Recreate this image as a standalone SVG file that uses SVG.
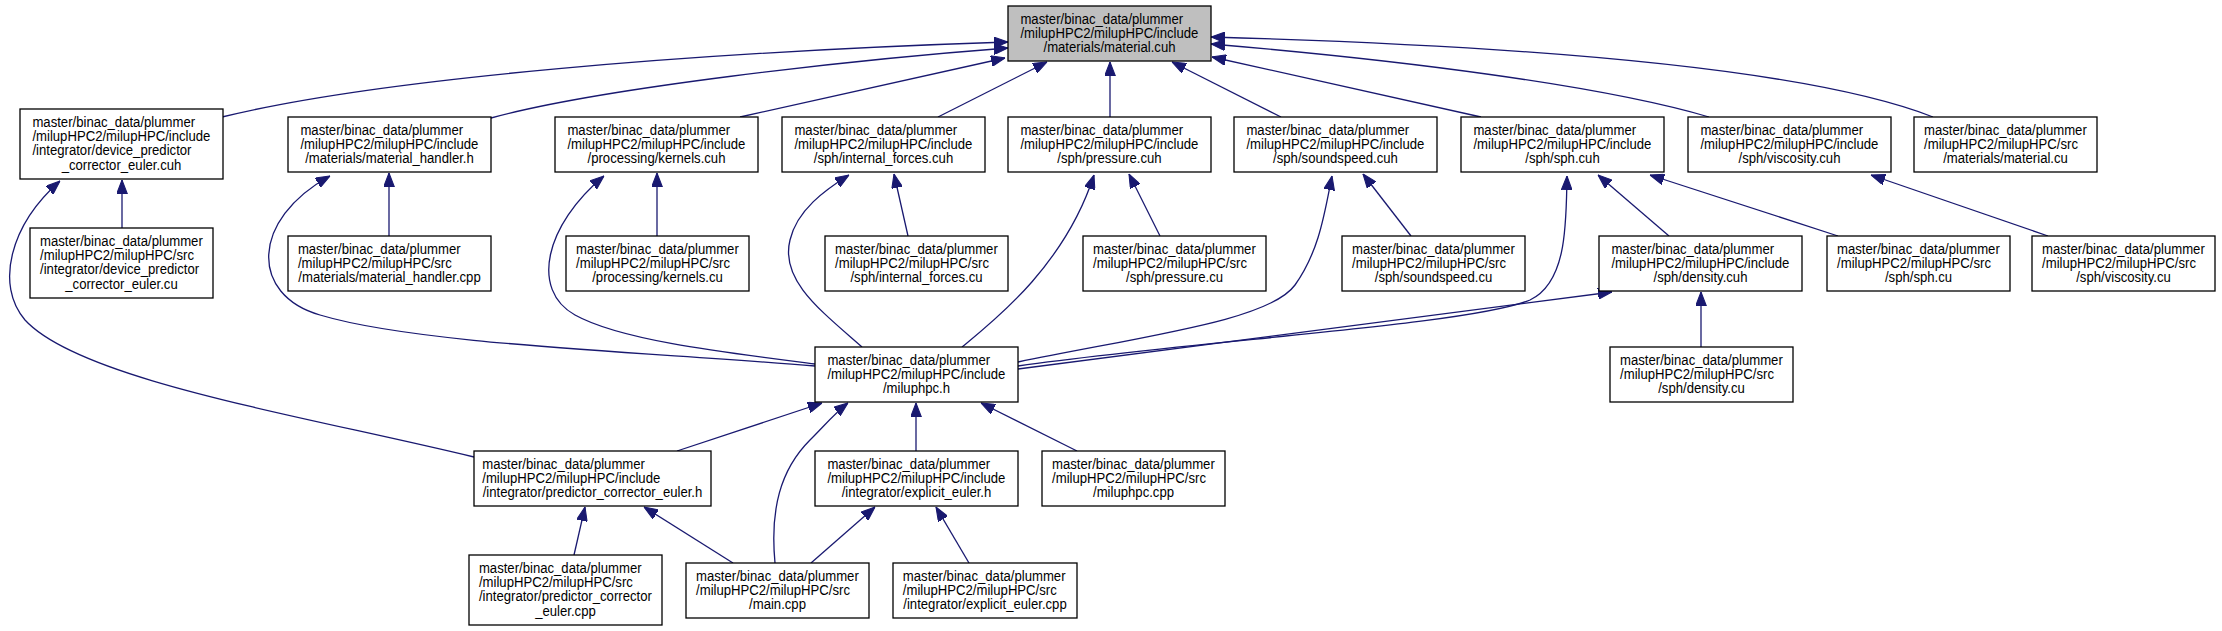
<svg xmlns="http://www.w3.org/2000/svg" width="2222" height="631" viewBox="0 0 2222 631">
<style>
.n rect{fill:#ffffff;stroke:#000000;stroke-width:1.3}
.n.root rect{fill:#bfbfbf}
.n text{font-family:"Liberation Sans",Arial,Helvetica,sans-serif;font-size:14.6px;fill:#000000}
.n text.c{text-anchor:middle}
.e path{fill:none;stroke:#191970;stroke-width:1.3;marker-end:url(#a)}
</style>
<defs>
<marker id="a" markerUnits="userSpaceOnUse" markerWidth="14" markerHeight="11" viewBox="0 0 13 10" refX="13" refY="5" orient="auto"><path d="M0,0 L13,5 L0,10 z" fill="#191970" stroke="#191970" stroke-width="1"/></marker>
</defs>
<rect x="0" y="0" width="2222" height="631" fill="#ffffff"/>
<g id="edges" class="e">
<path d="M222,117 C380,78 700,52 1008,42"/>
<path d="M491,118 C600,88 850,60 1008,48"/>
<path d="M740,117 L1005,58"/>
<path d="M938,117 L1047,62"/>
<path d="M1110,117 L1110,62"/>
<path d="M1281,117 L1172,62"/>
<path d="M1481,117 L1212,57"/>
<path d="M1709,117 C1600,85 1400,60 1211,44"/>
<path d="M1933,117 C1800,65 1500,45 1211,37"/>
<path d="M122,228 L122,180"/>
<path d="M474,457 C300,415 80,380 25,320 C-5,285 10,225 60,181"/>
<path d="M389,236 L389,173"/>
<path d="M815,366 C650,352 420,345 320,315 C250,295 250,220 330,176"/>
<path d="M657,236 L657,173"/>
<path d="M815,364 C720,352 620,340 575,315 C530,290 545,225 604,176"/>
<path d="M908,236 L894,174"/>
<path d="M862,347 C820,310 780,280 790,240 C797,210 825,190 849,175"/>
<path d="M1160,236 L1129,174"/>
<path d="M962,347 C995,320 1065,265 1094,175"/>
<path d="M1411,236 L1363,174"/>
<path d="M1018,362 C1150,335 1270,320 1295,285 C1320,250 1325,210 1332,176"/>
<path d="M1018,366 C1200,340 1470,325 1530,300 C1568,282 1566,220 1567,176"/>
<path d="M1669,236 L1598,175"/>
<path d="M1838,236 L1650,175"/>
<path d="M2048,236 L1871,175"/>
<path d="M1018,369 L1612,292"/>
<path d="M1701,347 L1701,292"/>
<path d="M677,451 L822,403"/>
<path d="M775,563 C770,510 780,470 810,440 C825,425 835,413 848,403"/>
<path d="M916,451 L916,403"/>
<path d="M1077,451 L981,403"/>
<path d="M574,555 L585,507"/>
<path d="M733,563 L644,507"/>
<path d="M811,563 L875,507"/>
<path d="M969,563 L936,507"/>
</g>
<g id="n_material_cuh" class="n root"><rect x="1008" y="6" width="203" height="55"/><g transform="translate(1109.5,0) scale(0.9,1)"><text x="-99" y="24">master/binac_data/plummer</text><text x="-99" y="38.2">/milupHPC2/milupHPC/include</text><text class="c" x="0" y="52.4">/materials/material.cuh</text></g></g>
<g id="n_device_predictor_cuh" class="n"><rect x="20" y="109" width="203" height="70"/><g transform="translate(121.5,0) scale(0.9,1)"><text x="-99" y="127">master/binac_data/plummer</text><text x="-99" y="141.2">/milupHPC2/milupHPC/include</text><text x="-99" y="155.4">/integrator/device_predictor</text><text class="c" x="0" y="169.6">_corrector_euler.cuh</text></g></g>
<g id="n_material_handler_h" class="n"><rect x="288" y="117" width="203" height="55"/><g transform="translate(389.5,0) scale(0.9,1)"><text x="-99" y="135">master/binac_data/plummer</text><text x="-99" y="149.2">/milupHPC2/milupHPC/include</text><text class="c" x="0" y="163.4">/materials/material_handler.h</text></g></g>
<g id="n_kernels_cuh" class="n"><rect x="555" y="117" width="203" height="55"/><g transform="translate(656.5,0) scale(0.9,1)"><text x="-99" y="135">master/binac_data/plummer</text><text x="-99" y="149.2">/milupHPC2/milupHPC/include</text><text class="c" x="0" y="163.4">/processing/kernels.cuh</text></g></g>
<g id="n_internal_forces_cuh" class="n"><rect x="782" y="117" width="203" height="55"/><g transform="translate(883.5,0) scale(0.9,1)"><text x="-99" y="135">master/binac_data/plummer</text><text x="-99" y="149.2">/milupHPC2/milupHPC/include</text><text class="c" x="0" y="163.4">/sph/internal_forces.cuh</text></g></g>
<g id="n_pressure_cuh" class="n"><rect x="1008" y="117" width="203" height="55"/><g transform="translate(1109.5,0) scale(0.9,1)"><text x="-99" y="135">master/binac_data/plummer</text><text x="-99" y="149.2">/milupHPC2/milupHPC/include</text><text class="c" x="0" y="163.4">/sph/pressure.cuh</text></g></g>
<g id="n_soundspeed_cuh" class="n"><rect x="1234" y="117" width="203" height="55"/><g transform="translate(1335.5,0) scale(0.9,1)"><text x="-99" y="135">master/binac_data/plummer</text><text x="-99" y="149.2">/milupHPC2/milupHPC/include</text><text class="c" x="0" y="163.4">/sph/soundspeed.cuh</text></g></g>
<g id="n_sph_cuh" class="n"><rect x="1461" y="117" width="203" height="55"/><g transform="translate(1562.5,0) scale(0.9,1)"><text x="-99" y="135">master/binac_data/plummer</text><text x="-99" y="149.2">/milupHPC2/milupHPC/include</text><text class="c" x="0" y="163.4">/sph/sph.cuh</text></g></g>
<g id="n_viscosity_cuh" class="n"><rect x="1688" y="117" width="203" height="55"/><g transform="translate(1789.5,0) scale(0.9,1)"><text x="-99" y="135">master/binac_data/plummer</text><text x="-99" y="149.2">/milupHPC2/milupHPC/include</text><text class="c" x="0" y="163.4">/sph/viscosity.cuh</text></g></g>
<g id="n_material_cu" class="n"><rect x="1914" y="117" width="183" height="55"/><g transform="translate(2005.5,0) scale(0.9,1)"><text x="-90.5" y="135">master/binac_data/plummer</text><text x="-90.5" y="149.2">/milupHPC2/milupHPC/src</text><text class="c" x="0" y="163.4">/materials/material.cu</text></g></g>
<g id="n_device_predictor_cu" class="n"><rect x="30" y="228" width="183" height="70"/><g transform="translate(121.5,0) scale(0.9,1)"><text x="-90.5" y="246">master/binac_data/plummer</text><text x="-90.5" y="260.2">/milupHPC2/milupHPC/src</text><text x="-90.5" y="274.4">/integrator/device_predictor</text><text class="c" x="0" y="288.6">_corrector_euler.cu</text></g></g>
<g id="n_material_handler_cpp" class="n"><rect x="288" y="236" width="203" height="55"/><g transform="translate(389.5,0) scale(0.9,1)"><text x="-101.8" y="254">master/binac_data/plummer</text><text x="-101.8" y="268.2">/milupHPC2/milupHPC/src</text><text class="c" x="0" y="282.4">/materials/material_handler.cpp</text></g></g>
<g id="n_kernels_cu" class="n"><rect x="566" y="236" width="183" height="55"/><g transform="translate(657.5,0) scale(0.9,1)"><text x="-90.5" y="254">master/binac_data/plummer</text><text x="-90.5" y="268.2">/milupHPC2/milupHPC/src</text><text class="c" x="0" y="282.4">/processing/kernels.cu</text></g></g>
<g id="n_internal_forces_cu" class="n"><rect x="825" y="236" width="183" height="55"/><g transform="translate(916.5,0) scale(0.9,1)"><text x="-90.5" y="254">master/binac_data/plummer</text><text x="-90.5" y="268.2">/milupHPC2/milupHPC/src</text><text class="c" x="0" y="282.4">/sph/internal_forces.cu</text></g></g>
<g id="n_pressure_cu" class="n"><rect x="1083" y="236" width="183" height="55"/><g transform="translate(1174.5,0) scale(0.9,1)"><text x="-90.5" y="254">master/binac_data/plummer</text><text x="-90.5" y="268.2">/milupHPC2/milupHPC/src</text><text class="c" x="0" y="282.4">/sph/pressure.cu</text></g></g>
<g id="n_soundspeed_cu" class="n"><rect x="1342" y="236" width="183" height="55"/><g transform="translate(1433.5,0) scale(0.9,1)"><text x="-90.5" y="254">master/binac_data/plummer</text><text x="-90.5" y="268.2">/milupHPC2/milupHPC/src</text><text class="c" x="0" y="282.4">/sph/soundspeed.cu</text></g></g>
<g id="n_density_cuh" class="n"><rect x="1599" y="236" width="203" height="55"/><g transform="translate(1700.5,0) scale(0.9,1)"><text x="-99" y="254">master/binac_data/plummer</text><text x="-99" y="268.2">/milupHPC2/milupHPC/include</text><text class="c" x="0" y="282.4">/sph/density.cuh</text></g></g>
<g id="n_sph_cu" class="n"><rect x="1827" y="236" width="183" height="55"/><g transform="translate(1918.5,0) scale(0.9,1)"><text x="-90.5" y="254">master/binac_data/plummer</text><text x="-90.5" y="268.2">/milupHPC2/milupHPC/src</text><text class="c" x="0" y="282.4">/sph/sph.cu</text></g></g>
<g id="n_viscosity_cu" class="n"><rect x="2032" y="236" width="183" height="55"/><g transform="translate(2123.5,0) scale(0.9,1)"><text x="-90.5" y="254">master/binac_data/plummer</text><text x="-90.5" y="268.2">/milupHPC2/milupHPC/src</text><text class="c" x="0" y="282.4">/sph/viscosity.cu</text></g></g>
<g id="n_miluphpc_h" class="n"><rect x="815" y="347" width="203" height="55"/><g transform="translate(916.5,0) scale(0.9,1)"><text x="-99" y="365">master/binac_data/plummer</text><text x="-99" y="379.2">/milupHPC2/milupHPC/include</text><text class="c" x="0" y="393.4">/miluphpc.h</text></g></g>
<g id="n_density_cu" class="n"><rect x="1610" y="347" width="183" height="55"/><g transform="translate(1701.5,0) scale(0.9,1)"><text x="-90.5" y="365">master/binac_data/plummer</text><text x="-90.5" y="379.2">/milupHPC2/milupHPC/src</text><text class="c" x="0" y="393.4">/sph/density.cu</text></g></g>
<g id="n_predictor_corrector_euler_h" class="n"><rect x="474" y="451" width="237" height="55"/><g transform="translate(592.5,0) scale(0.9,1)"><text x="-122.5" y="469">master/binac_data/plummer</text><text x="-122.5" y="483.2">/milupHPC2/milupHPC/include</text><text class="c" x="0" y="497.4">/integrator/predictor_corrector_euler.h</text></g></g>
<g id="n_explicit_euler_h" class="n"><rect x="815" y="451" width="203" height="55"/><g transform="translate(916.5,0) scale(0.9,1)"><text x="-99" y="469">master/binac_data/plummer</text><text x="-99" y="483.2">/milupHPC2/milupHPC/include</text><text class="c" x="0" y="497.4">/integrator/explicit_euler.h</text></g></g>
<g id="n_miluphpc_cpp" class="n"><rect x="1042" y="451" width="183" height="55"/><g transform="translate(1133.5,0) scale(0.9,1)"><text x="-90.5" y="469">master/binac_data/plummer</text><text x="-90.5" y="483.2">/milupHPC2/milupHPC/src</text><text class="c" x="0" y="497.4">/miluphpc.cpp</text></g></g>
<g id="n_predictor_corrector_euler_cpp" class="n"><rect x="469" y="555" width="193" height="70"/><g transform="translate(565.5,0) scale(0.9,1)"><text x="-96.2" y="573">master/binac_data/plummer</text><text x="-96.2" y="587.2">/milupHPC2/milupHPC/src</text><text x="-96.2" y="601.4">/integrator/predictor_corrector</text><text class="c" x="0" y="615.6">_euler.cpp</text></g></g>
<g id="n_main_cpp" class="n"><rect x="686" y="563" width="183" height="55"/><g transform="translate(777.5,0) scale(0.9,1)"><text x="-90.5" y="581">master/binac_data/plummer</text><text x="-90.5" y="595.2">/milupHPC2/milupHPC/src</text><text class="c" x="0" y="609.4">/main.cpp</text></g></g>
<g id="n_explicit_euler_cpp" class="n"><rect x="893" y="563" width="184" height="55"/><g transform="translate(985,0) scale(0.9,1)"><text x="-91.3" y="581">master/binac_data/plummer</text><text x="-91.3" y="595.2">/milupHPC2/milupHPC/src</text><text class="c" x="0" y="609.4">/integrator/explicit_euler.cpp</text></g></g>
</svg>
